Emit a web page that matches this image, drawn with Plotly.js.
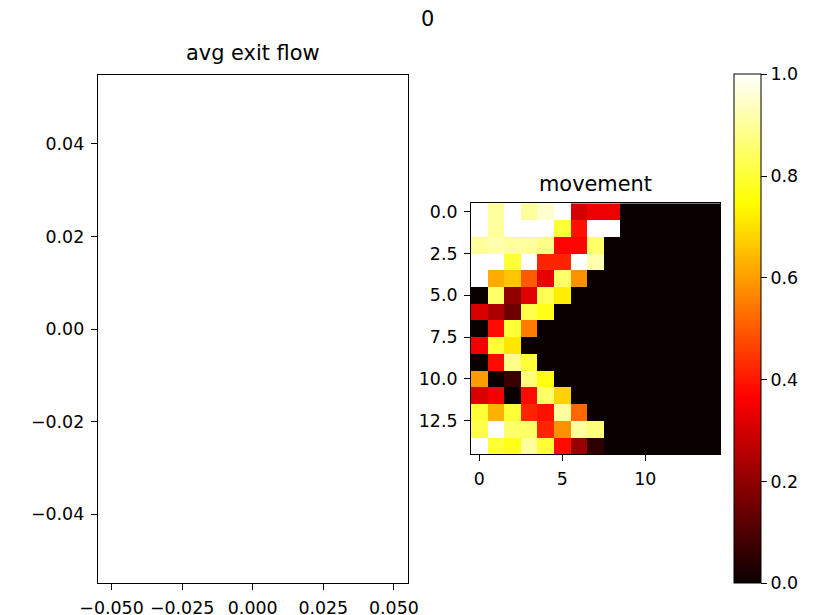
<!DOCTYPE html>
<html>
<head>
<meta charset="utf-8">
<script src="https://cdn.plot.ly/plotly-3.0.1.min.js"></script>
<style>html,body{margin:0;padding:0;background:#fff;}#chart{width:823px;height:615px;}</style>
</head>
<body>
<div id="chart"></div>
<script>
// ---- data ----
const figTitle = "0";
const leftTitle = "avg exit flow";
const rightTitle = "movement";
const avgExitFlowX = [];
const avgExitFlowY = [];
const leftXTickVals = [-0.05, -0.025, 0, 0.025, 0.05];
const leftXTickText = ["\u22120.050", "\u22120.025", "0.000", "0.025", "0.050"];
const leftYTickVals = [-0.04, -0.02, 0, 0.02, 0.04];
const leftYTickText = ["\u22120.04", "\u22120.02", "0.00", "0.02", "0.04"];
const gridCols = [0,1,2,3,4,5,6,7,8,9,10,11,12,13,14];
const gridRows = [0,1,2,3,4,5,6,7,8,9,10,11,12,13,14];
const row0  = [1.00,0.90,1.00,0.90,0.95,1.00,0.30,0.34,0.34,0,0,0,0,0,0];
const row1  = [1.00,0.90,1.00,1.00,1.00,0.80,0.39,1.00,1.00,0,0,0,0,0,0];
const row2  = [0.90,0.92,0.90,0.90,0.88,0.37,0.37,0.85,0,0,0,0,0,0,0];
const row3  = [1.00,1.00,0.80,1.00,0.42,0.42,1.00,0.92,0,0,0,0,0,0,0];
const row4  = [1.00,0.62,0.66,0.50,0.33,0.85,0.58,0,0,0,0,0,0,0,0];
const row5  = [0.00,0.85,0.20,0.32,0.83,0.72,0,0,0,0,0,0,0,0,0];
const row6  = [0.31,0.24,0.15,0.82,0.77,0,0,0,0,0,0,0,0,0,0];
const row7  = [0.00,0.38,0.80,0.55,0,0,0,0,0,0,0,0,0,0,0];
const row8  = [0.35,0.80,0.71,0,0,0,0,0,0,0,0,0,0,0,0];
const row9  = [0.00,0.38,0.88,0.80,0,0,0,0,0,0,0,0,0,0,0];
const row10 = [0.60,0.00,0.07,0.87,0.76,0,0,0,0,0,0,0,0,0,0];
const row11 = [0.31,0.35,0.00,0.38,0.85,0.68,0,0,0,0,0,0,0,0,0];
const row12 = [0.80,0.63,0.80,0.42,0.39,0.90,0.52,0,0,0,0,0,0,0,0];
const row13 = [0.82,1.00,0.85,0.85,0.42,0.58,0.90,0.87,0,0,0,0,0,0,0];
const row14 = [1.00,0.80,0.77,0.90,0.80,0.38,0.21,0.05,0,0,0,0,0,0,0];
const hmXTickVals = [0, 5, 10];
const hmXTickText = ["0", "5", "10"];
const hmYTickVals = [0, 2.5, 5, 7.5, 10, 12.5];
const hmYTickText = ["0.0", "2.5", "5.0", "7.5", "10.0", "12.5"];
const cbTickVals = [0, 0.2, 0.4, 0.6, 0.8, 1.0];
const cbTickText = ["0.0", "0.2", "0.4", "0.6", "0.8", "1.0"];

const movement = [row0,row1,row2,row3,row4,row5,row6,row7,row8,row9,row10,row11,row12,row13,row14];

// matplotlib "hot" colormap
const hot = [
  [0, "rgb(11,0,0)"],
  [0.365079, "rgb(255,0,0)"],
  [0.746032, "rgb(255,255,0)"],
  [1, "rgb(255,255,255)"]
];

const W = 823, H = 615;
const fx = p => p / W;
const fy = p => 1 - p / H;
const FONT = "DejaVu Sans, sans-serif";
const tickFont = {family: FONT, size: 17.4, color: "#000"};
const titleFont = {family: FONT, size: 20.9, color: "#000"};

const axisCommon = {
  showline: true, mirror: true, linecolor: "#000", linewidth: 1,
  ticks: "outside", ticklen: 6, tickwidth: 1, tickcolor: "#000",
  showgrid: false, zeroline: false, tickfont: tickFont, tickmode: "array",
  ticklabelstandoff: 3
};

const traces = [
  {
    type: "scatter", mode: "lines", x: avgExitFlowX, y: avgExitFlowY,
    xaxis: "x", yaxis: "y", showlegend: false, hoverinfo: "skip"
  },
  {
    type: "heatmap", z: movement, x: gridCols, y: gridRows,
    xaxis: "x2", yaxis: "y2", colorscale: hot, zmin: 0, zmax: 1,
    showscale: true,
    colorbar: {
      x: fx(734.3), xanchor: "left", xpad: 0, ypad: 0,
      y: fy(583.3), yanchor: "bottom",
      len: (583.3 - 74) / H, lenmode: "fraction",
      thickness: 27, thicknessmode: "pixels",
      outlinewidth: 1, outlinecolor: "#000",
      ticks: "outside", ticklen: 6, tickcolor: "#000",
      tickmode: "array", tickvals: cbTickVals, ticktext: cbTickText,
      tickfont: tickFont
    }
  }
];

const layout = {
  width: W, height: H,
  margin: {l: 0, r: 0, t: 0, b: 0, pad: 0},
  paper_bgcolor: "#fff", plot_bgcolor: "#fff",
  showlegend: false,
  xaxis: Object.assign({}, axisCommon, {
    domain: [fx(97.7), fx(407.7)], range: [-0.0549, 0.0549], anchor: "y",
    tickvals: leftXTickVals, ticktext: leftXTickText
  }),
  yaxis: Object.assign({}, axisCommon, {
    domain: [fy(583.3), fy(75)], range: [-0.0549, 0.0549], anchor: "x",
    tickvals: leftYTickVals, ticktext: leftYTickText
  }),
  xaxis2: Object.assign({}, axisCommon, {
    domain: [fx(471), fx(720)], range: [-0.5, 14.5], anchor: "y2",
    tickvals: hmXTickVals, ticktext: hmXTickText
  }),
  yaxis2: Object.assign({}, axisCommon, {
    domain: [fy(454), fy(203.3)], range: [14.5, -0.5], anchor: "x2",
    tickvals: hmYTickVals, ticktext: hmYTickText
  }),
  annotations: [
    {text: figTitle, xref: "paper", yref: "paper", x: fx(427), y: fy(19),
     xanchor: "center", yanchor: "middle", showarrow: false, font: titleFont},
    {text: leftTitle, xref: "paper", yref: "paper", x: fx(252.7), y: fy(53),
     xanchor: "center", yanchor: "middle", showarrow: false, font: titleFont},
    {text: rightTitle, xref: "paper", yref: "paper", x: fx(595.5), y: fy(184),
     xanchor: "center", yanchor: "middle", showarrow: false, font: titleFont}
  ]
};

Plotly.newPlot("chart", traces, layout, {staticPlot: true, displayModeBar: false});
</script>
</body>
</html>
